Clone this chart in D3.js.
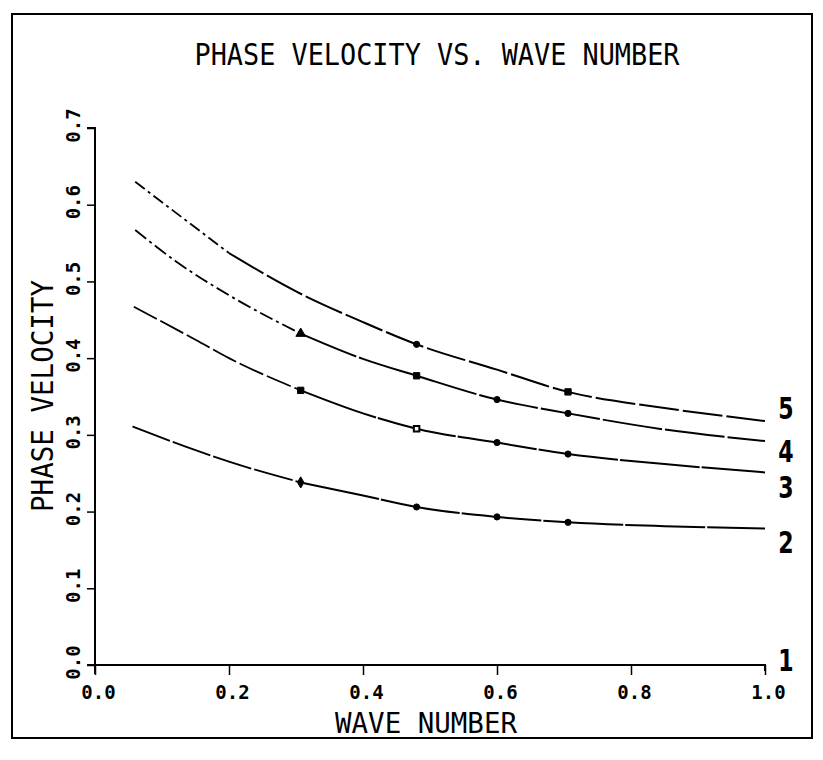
<!DOCTYPE html>
<html><head><meta charset="utf-8">
<script src="https://cdn.jsdelivr.net/npm/d3@7"></script>
<style>body{margin:0;background:#fff}svg{display:block}</style>
</head><body>
<script>
// ---- data ----
const title = "PHASE VELOCITY VS. WAVE NUMBER";
const xTitle = "WAVE NUMBER";
const yTitle = "PHASE VELOCITY";
const xTicks = [0.0, 0.2, 0.4, 0.6, 0.8, 1.0];
const yTicks = [0.0, 0.1, 0.2, 0.3, 0.4, 0.5, 0.6, 0.7];
const curveNames = ["1", "2", "3", "4", "5"];

const curve1X = [0.0, 1.0];
const curve1Y = [0.0, 0.0];
const curve2X = [0.056, 0.15, 0.2, 0.307, 0.4, 0.48, 0.6, 0.706, 0.85, 1.0];
const curve2Y = [0.311, 0.28, 0.265, 0.238, 0.221, 0.206, 0.193, 0.186, 0.181, 0.178];
const curve3X = [0.058, 0.15, 0.2, 0.307, 0.4, 0.48, 0.6, 0.706, 0.85, 1.0];
const curve3Y = [0.467, 0.424, 0.4, 0.358, 0.328, 0.308, 0.29, 0.275, 0.262, 0.251];
const curve4X = [0.06, 0.121, 0.2, 0.307, 0.4, 0.48, 0.6, 0.706, 0.85, 1.0];
const curve4Y = [0.567, 0.526, 0.482, 0.432, 0.399, 0.377, 0.346, 0.328, 0.307, 0.292];
const curve5X = [0.06, 0.12, 0.2, 0.3, 0.4, 0.48, 0.6, 0.706, 0.85, 1.0];
const curve5Y = [0.63, 0.59, 0.537, 0.487, 0.447, 0.418, 0.385, 0.356, 0.335, 0.318];

// marked points
const marks2X = [0.307, 0.48, 0.6, 0.706];
const marks2Y = [0.238, 0.206, 0.193, 0.186];
const marks3X = [0.307, 0.48, 0.6, 0.706];
const marks3Y = [0.358, 0.308, 0.29, 0.275];
const marks4X = [0.307, 0.48, 0.6, 0.706];
const marks4Y = [0.432, 0.377, 0.346, 0.328];
const marks5X = [0.48, 0.706];
const marks5Y = [0.418, 0.356];

// ---- drawing ----
const W = 823, H = 760;
const svg = d3.select("body").append("svg").attr("width", W).attr("height", H);
const x = d3.scaleLinear().domain([0, 1]).range([95, 765]);
const y = d3.scaleLinear().domain([0, 0.7]).range([665, 128]);
const font = "'DejaVu Sans Mono', monospace";

// frame
svg.append("rect").attr("x", 12).attr("y", 14).attr("width", 800).attr("height", 724)
  .attr("fill", "none").attr("stroke", "#000").attr("stroke-width", 2);

// title
svg.append("text").attr("x", 437).attr("y", 65).attr("text-anchor", "middle")
  .attr("font-family", font).attr("font-size", 30)
  .attr("textLength", 485).attr("lengthAdjust", "spacingAndGlyphs")
  .text(title);

// axes
const xAxis = d3.axisBottom(x).tickValues(xTicks).tickFormat(d3.format(".1f")).tickSize(10).tickPadding(11);
const gx = svg.append("g").attr("transform", `translate(0,${y(0)})`).call(xAxis);
gx.select(".domain").attr("d", `M${x(0)-8},0H${x(1)}v6`).attr("stroke-width", 2);
gx.selectAll(".tick line").attr("stroke-width", 1.5);
gx.selectAll(".tick text").attr("font-family", font).attr("font-size", 19).attr("font-weight", "bold")
  .attr("dx", 3);

const yAxis = d3.axisLeft(y).tickValues(yTicks).tickFormat(d3.format(".1f")).tickSize(8).tickPadding(0);
const gy = svg.append("g").attr("transform", `translate(${x(0)},0)`).call(yAxis);
gy.select(".domain").attr("d", `M-8,${y(0.7)}H0V${y(0)+9}`).attr("stroke-width", 2);
gy.selectAll(".tick line").attr("stroke-width", 1.5);
gy.selectAll(".tick text")
  .attr("font-family", font).attr("font-size", 19).attr("font-weight", "bold")
  .attr("text-anchor", "middle").attr("x", null)
  .attr("transform", "translate(-22,-3) rotate(-90)").attr("y", 0).attr("dy", "0.35em");

// axis titles
svg.append("text").attr("x", 426).attr("y", 733).attr("text-anchor", "middle")
  .attr("font-family", font).attr("font-size", 28)
  .attr("textLength", 182).attr("lengthAdjust", "spacingAndGlyphs").text(xTitle);
svg.append("text").attr("transform", "translate(53,396) rotate(-90)").attr("text-anchor", "middle")
  .attr("font-family", font).attr("font-size", 30)
  .attr("textLength", 232).attr("lengthAdjust", "spacingAndGlyphs").text(yTitle);

// curves
const curves = [
  {xs: curve1X, ys: curve1Y, split: 0, dashA: null, dashB: null},
  {xs: curve2X, ys: curve2Y, split: 0.307, dashA: "40,3", dashB: "80,2"},
  {xs: curve3X, ys: curve3Y, split: 0.307, dashA: "26,4", dashB: "80,2"},
  {xs: curve4X, ys: curve4Y, split: 0.307, dashA: "14,4,3,4", dashB: "60,3"},
  {xs: curve5X, ys: curve5Y, split: 0.2, dashA: "12,4,3,4", dashB: "40,4"}
];
const line = d3.line().x(d => x(d[0])).y(d => y(d[1])).curve(d3.curveMonotoneX);
curves.forEach((c, i) => {
  const pts = c.xs.map((v, j) => [v, c.ys[j]]);
  if (i === 0) return; // curve 1 lies on the x axis
  const a = pts.filter(p => p[0] <= c.split + 1e-9);
  const b = pts.filter(p => p[0] >= c.split - 1e-9);
  svg.append("path").attr("d", line(a)).attr("fill", "none").attr("stroke", "#000")
    .attr("stroke-width", 1.8).attr("stroke-dasharray", c.dashA);
  svg.append("path").attr("d", line(b)).attr("fill", "none").attr("stroke", "#000")
    .attr("stroke-width", 2).attr("stroke-dasharray", c.dashB);
});

// markers
function marks(xs, ys, symbols) {
  xs.forEach((v, j) => {
    const s = symbols[j];
    svg.append("path")
      .attr("transform", `translate(${x(v)},${y(ys[j])})`)
      .attr("d", d3.symbol().type(s.type).size(s.size)())
      .attr("fill", s.open ? "#fff" : "#000").attr("stroke", "#000").attr("stroke-width", s.open ? 2 : 1);
  });
}
const dot = {type: d3.symbolCircle, size: 30};
const dia = {type: d3.symbolDiamond, size: 36};
const sq = {type: d3.symbolSquare, size: 40};
const osq = {type: d3.symbolSquare, size: 30, open: true};
const tri = {type: d3.symbolTriangle, size: 40};
marks(marks2X, marks2Y, [dia, dot, dot, dot]);
marks(marks3X, marks3Y, [sq, osq, dot, dot]);
marks(marks4X, marks4Y, [tri, sq, dot, dot]);
marks(marks5X, marks5Y, [dot, sq]);

// curve number labels
const labelYs = [curve1Y[curve1Y.length-1], curve2Y[curve2Y.length-1], curve3Y[curve3Y.length-1], curve4Y[curve4Y.length-1], curve5Y[curve5Y.length-1]];
const labelOffsets = [-5, 13.5, 14.5, 10, -13];
curveNames.forEach((n, i) => {
  svg.append("text")
    .attr("transform", `translate(786,${y(labelYs[i]) + labelOffsets[i]}) scale(0.85,1.18)`)
    .attr("text-anchor", "middle").attr("dy", "0.36em")
    .attr("font-family", "'DejaVu Sans', sans-serif").attr("font-weight", "bold").attr("font-size", 26)
    .text(n);
});
</script>
</body></html>
